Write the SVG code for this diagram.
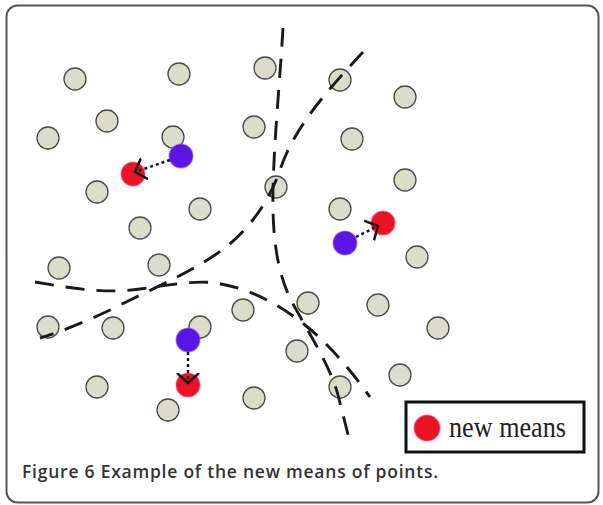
<svg xmlns="http://www.w3.org/2000/svg" width="603" height="505" viewBox="0 0 603 505">
  <defs>
    <style>
      .pt { fill: #dcdccb; stroke: #4a4a4a; stroke-width: 1.3; }
      .old { fill: #5a16e4; stroke: #a060f0; stroke-width: 1.2; stroke-opacity: 0.6; }
      .new { fill: #ec1424; stroke: #f05a9a; stroke-width: 1.2; stroke-opacity: 0.6; }
      .border { fill: none; stroke: #1a1a1a; stroke-width: 2.9; stroke-dasharray: 19 12; }
      .move { fill: none; stroke: #151515; stroke-width: 2.5; stroke-dasharray: 3 3; marker-end: url(#head); }
      .caption { font-family: "Open Sans", "Noto Sans", "Liberation Sans", sans-serif; font-size: 17.5px; font-weight: 600; fill: #333333; }
      .legend-text { font-family: "Liberation Serif", "DejaVu Serif", serif; font-size: 30px; fill: #222222; }
    </style>
    <marker id="head" viewBox="0 0 12 24" refX="10.5" refY="12" markerWidth="12" markerHeight="24" markerUnits="userSpaceOnUse" orient="auto">
      <path d="M0.5,1 L10.5,12 L0.5,23" fill="none" stroke="#151515" stroke-width="2.5"/>
    </marker>
  </defs>

  <!-- page background and frame -->
  <rect x="0" y="0" width="603" height="505" fill="#ffffff"/>
  <rect x="6.5" y="5.5" width="592" height="497" rx="11" ry="11" fill="#ffffff" stroke="#555555" stroke-width="2"/>

  <!-- data points -->
  <g id="points">
    <circle class="pt" cx="75" cy="79" r="11"/>
    <circle class="pt" cx="179" cy="74" r="11"/>
    <circle class="pt" cx="265" cy="68" r="11"/>
    <circle class="pt" cx="340" cy="80" r="11"/>
    <circle class="pt" cx="405" cy="97" r="11"/>
    <circle class="pt" cx="107" cy="121" r="11"/>
    <circle class="pt" cx="48" cy="138" r="11"/>
    <circle class="pt" cx="173" cy="137" r="11"/>
    <circle class="pt" cx="254" cy="127" r="11"/>
    <circle class="pt" cx="352" cy="139" r="11"/>
    <circle class="pt" cx="97" cy="192" r="11"/>
    <circle class="pt" cx="276" cy="187" r="11"/>
    <circle class="pt" cx="405" cy="180" r="11"/>
    <circle class="pt" cx="200" cy="209" r="11"/>
    <circle class="pt" cx="140" cy="228" r="11"/>
    <circle class="pt" cx="340" cy="209" r="11"/>
    <circle class="pt" cx="417" cy="257" r="11"/>
    <circle class="pt" cx="59" cy="268" r="11"/>
    <circle class="pt" cx="159" cy="265" r="11"/>
    <circle class="pt" cx="48" cy="327" r="11"/>
    <circle class="pt" cx="113" cy="328" r="11"/>
    <circle class="pt" cx="200" cy="327" r="11"/>
    <circle class="pt" cx="243" cy="310" r="11"/>
    <circle class="pt" cx="308" cy="303" r="11"/>
    <circle class="pt" cx="378" cy="305" r="11"/>
    <circle class="pt" cx="438" cy="328" r="11"/>
    <circle class="pt" cx="297" cy="351" r="11"/>
    <circle class="pt" cx="400" cy="375" r="11"/>
    <circle class="pt" cx="340" cy="387" r="11"/>
    <circle class="pt" cx="97" cy="387" r="11"/>
    <circle class="pt" cx="168" cy="410" r="11"/>
    <circle class="pt" cx="254" cy="398" r="11"/>
  </g>

  <!-- cluster boundaries -->
  <g id="boundaries">
    <path class="border" d="M283,28 C280,80 274,140 273,190 C272,240 278,275 292,302 C308,332 330,365 338,395 C343,415 347,430 350,443"/>
    <path class="border" d="M363,52 C330,88 295,125 280,170 C268,205 245,235 215,255 C180,278 145,292 110,310 C85,322 60,332 40,338"/>
    <path class="border" d="M35,282 C70,288 105,294 140,289 C170,285 195,280 215,283 C250,288 280,305 305,325 C330,345 352,372 370,397"/>
  </g>

  <!-- old means -->
  <g id="old-mean-1"><circle class="old" cx="181" cy="156" r="12"/></g>
  <g id="old-mean-2"><circle class="old" cx="345" cy="243" r="12"/></g>
  <g id="old-mean-3"><circle class="old" cx="188" cy="340" r="12"/></g>

  <!-- new means -->
  <g id="new-mean-1"><circle class="new" cx="133" cy="174" r="12"/></g>
  <g id="new-mean-2"><circle class="new" cx="383" cy="223" r="12"/></g>
  <g id="new-mean-3"><circle class="new" cx="188" cy="385" r="12"/></g>

  <!-- movement of each mean -->
  <g id="connectors">
    <line class="move" x1="170" y1="160" x2="135" y2="172"/>
    <line class="move" x1="356" y1="237" x2="378" y2="226"/>
    <line class="move" x1="188" y1="352" x2="188" y2="383"/>
  </g>

  <!-- legend -->
  <g id="legend">
    <rect x="406" y="402" width="178" height="50" fill="#ffffff" stroke="#111111" stroke-width="3"/>
    <circle class="new" cx="427" cy="428" r="13"/>
    <text class="legend-text" x="449" y="437" textLength="117" lengthAdjust="spacingAndGlyphs">new means</text>
  </g>

  <!-- caption -->
  <text class="caption" x="22" y="478" textLength="416" lengthAdjust="spacing">Figure 6 Example of the new means of points.</text>
</svg>
